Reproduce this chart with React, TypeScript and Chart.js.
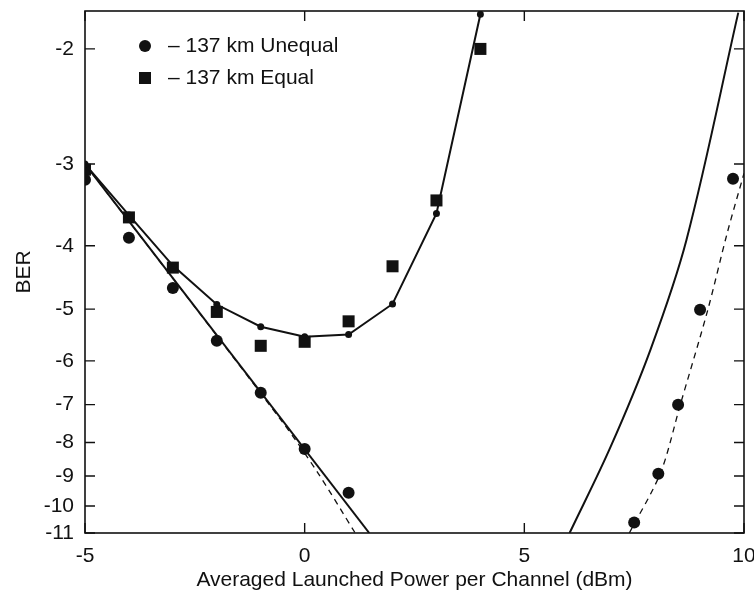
import React, { useEffect, useRef } from "react";
import { Chart, registerables } from "chart.js";

Chart.register(...registerables);

// ---- data (x: averaged launched power per channel, dBm; BER given as log10 exponent) ----
const unequalX = [-5, -4, -3, -2, -1, 0, 1, 7.5, 8.05, 8.5, 9.0, 9.75];
const unequalBER = [-3.17, -3.89, -4.64, -5.59, -6.71, -8.18, -9.55, -10.6, -8.93, -7.0, -5.01, -3.16];

const equalX = [-5, -4, -3, -2, -1, 0, 1, 2, 3, 4];
const equalBER = [-3.06, -3.62, -4.32, -5.05, -5.69, -5.61, -5.22, -4.3, -3.41, -2.0];

const fitEqualX = [-5, -4, -3, -2, -1, 0, 1, 2, 3, 4];
const fitEqualBER = [-3.0, -3.59, -4.29, -4.92, -5.32, -5.51, -5.47, -4.91, -3.57, -1.77];

const lowSolidX = [-5, 1.47];
const lowSolidBER = [-3.0, -11.0];

const lowDashX = [-5, -0.5, 0.3, 1.15];
const lowDashBER = [-3.0, -7.45, -8.9, -11.0];

const rightSolidX = [6.03, 6.96, 7.87, 8.69, 9.87];
const rightSolidBER = [-11.0, -8.13, -5.77, -3.92, -1.76];

const rightDashX = [7.39, 8.1, 8.55, 9.17, 9.62, 10.0];
const rightDashBER = [-11.0, -8.9, -7.0, -5.03, -3.82, -3.1];

const xTicks = [-5, 0, 5, 10];
const yTicks = [-2, -3, -4, -5, -6, -7, -8, -9, -10, -11];

const legendLabels = ["\u2013 137 km Unequal", "\u2013 137 km Equal"];

const FONT = "'Liberation Sans', Arial, Helvetica, sans-serif";
const INK = "#111";

const pts = (xs: number[], ys: number[]) => xs.map((x, i) => ({ x, y: -ys[i] }));

const framePlugin = {
  id: "frameTicksLegend",
  afterDraw(chart: any) {
    const { ctx, chartArea } = chart;
    const { left, right, top, bottom } = chartArea;
    const xs = chart.scales.x;
    const ys = chart.scales.y;
    ctx.save();
    ctx.strokeStyle = INK;
    ctx.lineWidth = 1.6;
    ctx.strokeRect(left, top, right - left, bottom - top);
    const L = 10;
    ctx.lineWidth = 1.4;
    ctx.beginPath();
    xs.ticks.forEach((t: any) => {
      const px = xs.getPixelForValue(t.value);
      ctx.moveTo(px, bottom);
      ctx.lineTo(px, bottom - L);
      ctx.moveTo(px, top);
      ctx.lineTo(px, top + L);
    });
    ys.ticks.forEach((t: any) => {
      const py = ys.getPixelForValue(t.value);
      ctx.moveTo(left, py);
      ctx.lineTo(left + L, py);
      ctx.moveTo(right, py);
      ctx.lineTo(right - L, py);
    });
    ctx.stroke();

    // legend
    const mx = left + 60;
    const tx = left + 83;
    const y1 = top + 35;
    const y2 = top + 67;
    ctx.fillStyle = INK;
    ctx.beginPath();
    ctx.arc(mx, y1, 6, 0, Math.PI * 2);
    ctx.fill();
    ctx.fillRect(mx - 6, y2 - 6, 12, 12);
    ctx.font = `21px ${FONT}`;
    ctx.textBaseline = "middle";
    ctx.textAlign = "left";
    ctx.fillText(legendLabels[0], tx, y1);
    ctx.fillText(legendLabels[1], tx, y2);
    ctx.restore();
  },
};

export default function App() {
  const ref = useRef<HTMLCanvasElement | null>(null);

  useEffect(() => {
    if (!ref.current) return;
    const chart = new Chart(ref.current, {
      type: "scatter",
      data: {
        datasets: [
          {
            label: "fit equal",
            data: pts(fitEqualX, fitEqualBER),
            showLine: true,
            borderColor: INK,
            backgroundColor: INK,
            borderWidth: 2,
            pointRadius: 2.5,
            pointHoverRadius: 2.5,
            tension: 0,
          },
          {
            label: "low solid",
            data: pts(lowSolidX, lowSolidBER),
            showLine: true,
            borderColor: INK,
            borderWidth: 2,
            pointRadius: 0,
          },
          {
            label: "low dash",
            data: pts(lowDashX, lowDashBER),
            showLine: true,
            borderColor: INK,
            borderWidth: 1.3,
            borderDash: [6, 5],
            pointRadius: 0,
            tension: 0.3,
          },
          {
            label: "right solid",
            data: pts(rightSolidX, rightSolidBER),
            showLine: true,
            borderColor: INK,
            borderWidth: 2,
            pointRadius: 0,
            tension: 0.35,
          },
          {
            label: "right dash",
            data: pts(rightDashX, rightDashBER),
            showLine: true,
            borderColor: INK,
            borderWidth: 1.3,
            borderDash: [6, 5],
            pointRadius: 0,
            tension: 0.3,
          },
          {
            label: legendLabels[0],
            data: pts(unequalX, unequalBER),
            showLine: false,
            pointStyle: "circle",
            pointRadius: 6,
            pointHoverRadius: 6,
            backgroundColor: INK,
            borderColor: INK,
            borderWidth: 0,
          },
          {
            label: legendLabels[1],
            data: pts(equalX, equalBER),
            showLine: false,
            pointStyle: "rect",
            pointRadius: 8.5,
            pointHoverRadius: 8.5,
            backgroundColor: INK,
            borderColor: INK,
            borderWidth: 0,
          },
        ],
      },
      options: {
        animation: false,
        responsive: false,
        events: [],
        layout: { padding: { left: 0, right: 10, top: 11, bottom: 0 } },
        plugins: {
          legend: { display: false },
          tooltip: { enabled: false },
        },
        scales: {
          x: {
            type: "linear",
            min: -5,
            max: 10,
            grid: { display: false, drawTicks: false },
            border: { display: false },
            afterBuildTicks: (s: any) => {
              s.ticks = xTicks.map((v) => ({ value: v }));
            },
            afterFit: (s: any) => {
              s.height = 68;
              s.paddingLeft = 0;
              s.paddingRight = 0;
            },
            ticks: {
              color: INK,
              font: { family: FONT, size: 21 },
              padding: 11,
              maxRotation: 0,
              autoSkip: false,
              callback: (v: any) => String(v),
            },
            title: {
              display: true,
              text: "Averaged Launched Power per Channel (dBm)",
              color: INK,
              font: { family: FONT, size: 21 },
              padding: { top: 0, bottom: 8 },
            },
          },
          y: {
            type: "logarithmic",
            reverse: true,
            min: 1.75,
            max: 11,
            grid: { display: false, drawTicks: false },
            border: { display: false },
            afterBuildTicks: (s: any) => {
              s.ticks = yTicks.map((v) => ({ value: -v }));
            },
            afterFit: (s: any) => {
              s.width = 85;
              s.paddingTop = 0;
              s.paddingBottom = 0;
            },
            ticks: {
              color: INK,
              font: { family: FONT, size: 21 },
              padding: 11,
              autoSkip: false,
              callback: (v: any) => "-" + String(v),
            },
            title: {
              display: true,
              text: "BER",
              color: INK,
              font: { family: FONT, size: 21 },
              padding: { top: 12, bottom: 0 },
            },
          },
        },
      },
      plugins: [framePlugin],
    });
    return () => chart.destroy();
  }, []);

  return (
    <div style={{ position: "absolute", left: 0, top: 0, width: 754, height: 601, background: "#fff" }}>
      <canvas ref={ref} width={754} height={601} style={{ display: "block" }} />
    </div>
  );
}
